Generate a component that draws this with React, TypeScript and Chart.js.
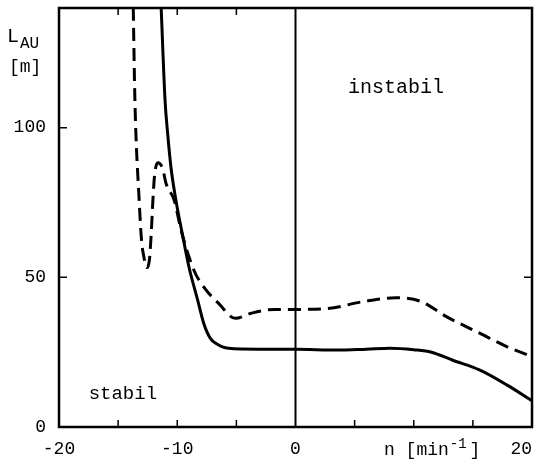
import React, { useEffect, useRef } from "react";
import { Chart, registerables } from "chart.js";

Chart.register(...registerables);

// Solid curve (n in min^-1, L_AU in m)
const solidX = [-11.36, -11.03, -10.81, -10.53, -10.11, -9.58, -9.0, -8.3, -7.75, -7.2, -6.75, -5.67, -3.17, 0, 3.5, 6, 8, 10, 11.5, 13.3, 15.6, 17.9, 20];
const solidY = [140, 109, 98, 86.7, 75.7, 64.7, 53.3, 42.8, 34.5, 29.6, 28, 26.3, 26, 26, 25.7, 26, 26.3, 25.8, 25, 22.3, 19, 14, 8.8];

// Dashed curve
const dashedX = [-13.72, -13.58, -13.22, -13.02, -12.83, -12.6, -12.35, -12.2, -12.06, -11.92, -11.64, -11.25, -10.94, -10.25, -9.67, -8.58, -7.67, -6.5, -5.08, -3.75, -1.75, 0, 2.75, 5.6, 8.5, 10.5, 12.8, 15.6, 17.9, 20];
const dashedY = [140, 109, 75.7, 62.3, 57, 53.3, 56, 64.7, 75.7, 84, 88.3, 86.5, 81.3, 75.7, 65.7, 52.3, 46.3, 41.3, 36.3, 38, 39.3, 39.3, 39.6, 41.8, 43.2, 42.1, 36.8, 31.3, 26.8, 23.5];

const xLabelTicks = [-20, -10, 0, 20];
const yLabelTicks = [0, 50, 100];
const xMinorTicksBottom = [-15, -10, -5, 5, 10, 15];
const xMinorTicksTop = [-15, -10, -5];
const yMinorTicksLeft = [50, 100];
const yMinorTicksRight = [50];

const X_MIN = -20;
const X_MAX = 20;
const Y_MIN = 0;
const Y_MAX = 140;

const FONT = '"Liberation Mono", "Courier New", monospace';

const overlay = {
  id: "overlay",
  beforeDatasetsDraw(chart: any) {
    const { ctx, chartArea: a, scales } = chart;
    const x0 = scales.x.getPixelForValue(0);
    ctx.save();
    ctx.strokeStyle = "#000";
    ctx.lineWidth = 2;
    ctx.beginPath();
    ctx.moveTo(x0, a.top);
    ctx.lineTo(x0, a.bottom);
    ctx.stroke();
    ctx.restore();
  },
  afterDraw(chart: any) {
    const { ctx, chartArea: a, scales } = chart;
    const xs = scales.x;
    const ys = scales.y;
    ctx.save();
    ctx.strokeStyle = "#000";
    ctx.lineWidth = 2.5;
    ctx.strokeRect(a.left, a.top, a.right - a.left, a.bottom - a.top);
    ctx.lineWidth = 1.5;
    ctx.beginPath();
    for (const v of xMinorTicksBottom) {
      const p = xs.getPixelForValue(v);
      ctx.moveTo(p, a.bottom);
      ctx.lineTo(p, a.bottom - 7);
    }
    for (const v of xMinorTicksTop) {
      const p = xs.getPixelForValue(v);
      ctx.moveTo(p, a.top);
      ctx.lineTo(p, a.top + 7);
    }
    for (const v of yMinorTicksLeft) {
      const p = ys.getPixelForValue(v);
      ctx.moveTo(a.left, p);
      ctx.lineTo(a.left + 8, p);
    }
    for (const v of yMinorTicksRight) {
      const p = ys.getPixelForValue(v);
      ctx.moveTo(a.right, p);
      ctx.lineTo(a.right - 8, p);
    }
    ctx.stroke();

    ctx.fillStyle = "#000";
    ctx.textBaseline = "alphabetic";
    ctx.textAlign = "center";
    ctx.font = `20px ${FONT}`;
    ctx.fillText("instabil", xs.getPixelForValue(8.5), ys.getPixelForValue(111.5));
    ctx.font = `19px ${FONT}`;
    ctx.fillText("stabil", xs.getPixelForValue(-14.6), ys.getPixelForValue(9.5));

    // y axis title
    ctx.textAlign = "left";
    ctx.font = `20px ${FONT}`;
    ctx.fillText("L", 7, 42);
    ctx.font = `16px ${FONT}`;
    ctx.fillText("AU", 20, 48);
    ctx.font = `18px ${FONT}`;
    ctx.fillText("[m]", 9, 72);

    // x axis title
    const bx = 384;
    const by = 455;
    ctx.font = `18px ${FONT}`;
    const t1 = "n [min";
    ctx.fillText(t1, bx, by);
    const w1 = ctx.measureText(t1).width;
    ctx.font = `14px ${FONT}`;
    const t2 = "-1";
    ctx.fillText(t2, bx + w1 + 1, by - 7);
    const w2 = ctx.measureText(t2).width;
    ctx.font = `18px ${FONT}`;
    ctx.fillText("]", bx + w1 + w2 + 4, by);
    ctx.restore();
  },
};

export default function App() {
  const ref = useRef<HTMLCanvasElement | null>(null);

  useEffect(() => {
    document.body.style.margin = "0";
    const canvas = ref.current;
    if (!canvas) return;
    const solid = solidX.map((x, i) => ({ x, y: solidY[i] }));
    const dashed = dashedX.map((x, i) => ({ x, y: dashedY[i] }));
    const chart = new Chart(canvas, {
      type: "scatter",
      data: {
        datasets: [
          {
            data: solid,
            showLine: true,
            borderColor: "#000",
            borderWidth: 3,
            pointRadius: 0,
            cubicInterpolationMode: "monotone",
          },
          {
            data: dashed,
            showLine: true,
            borderColor: "#000",
            borderWidth: 3,
            borderDash: [13, 7],
            pointRadius: 0,
            cubicInterpolationMode: "monotone",
          },
        ],
      },
      options: {
        animation: false,
        responsive: false,
        devicePixelRatio: 1,
        layout: { padding: { top: 8, right: 12, left: 0, bottom: 0 } },
        plugins: { legend: { display: false }, tooltip: { enabled: false } },
        scales: {
          x: {
            type: "linear",
            min: X_MIN,
            max: X_MAX,
            grid: { display: false, drawTicks: false },
            border: { display: false },
            afterFit: (s: any) => {
              s.height = 39;
              s.paddingLeft = 0;
              s.paddingRight = 0;
              s.paddingTop = 0;
              s.paddingBottom = 0;
            },
            afterBuildTicks: (s: any) => {
              s.ticks = xLabelTicks.map((v) => ({ value: v }));
            },
            ticks: {
              color: "#000",
              font: { family: FONT, size: 18 },
              padding: 11,
              maxRotation: 0,
              autoSkip: false,
              callback: (v: any) => (v === X_MAX ? String(v) + "  " : String(v)),
            },
          },
          y: {
            type: "linear",
            min: Y_MIN,
            max: Y_MAX,
            grid: { display: false, drawTicks: false },
            border: { display: false },
            afterFit: (s: any) => {
              s.width = 59;
              s.paddingLeft = 0;
              s.paddingRight = 0;
              s.paddingTop = 0;
              s.paddingBottom = 0;
            },
            afterBuildTicks: (s: any) => {
              s.ticks = yLabelTicks.map((v) => ({ value: v }));
            },
            ticks: {
              color: "#000",
              font: { family: FONT, size: 18 },
              padding: 13,
              autoSkip: false,
              callback: (v: any) => String(v),
            },
          },
        },
      },
      plugins: [overlay],
    });
    return () => chart.destroy();
  }, []);

  return (
    <div style={{ width: 544, height: 466, background: "#fff" }}>
      <canvas ref={ref} width={544} height={466} style={{ display: "block" }} />
    </div>
  );
}
